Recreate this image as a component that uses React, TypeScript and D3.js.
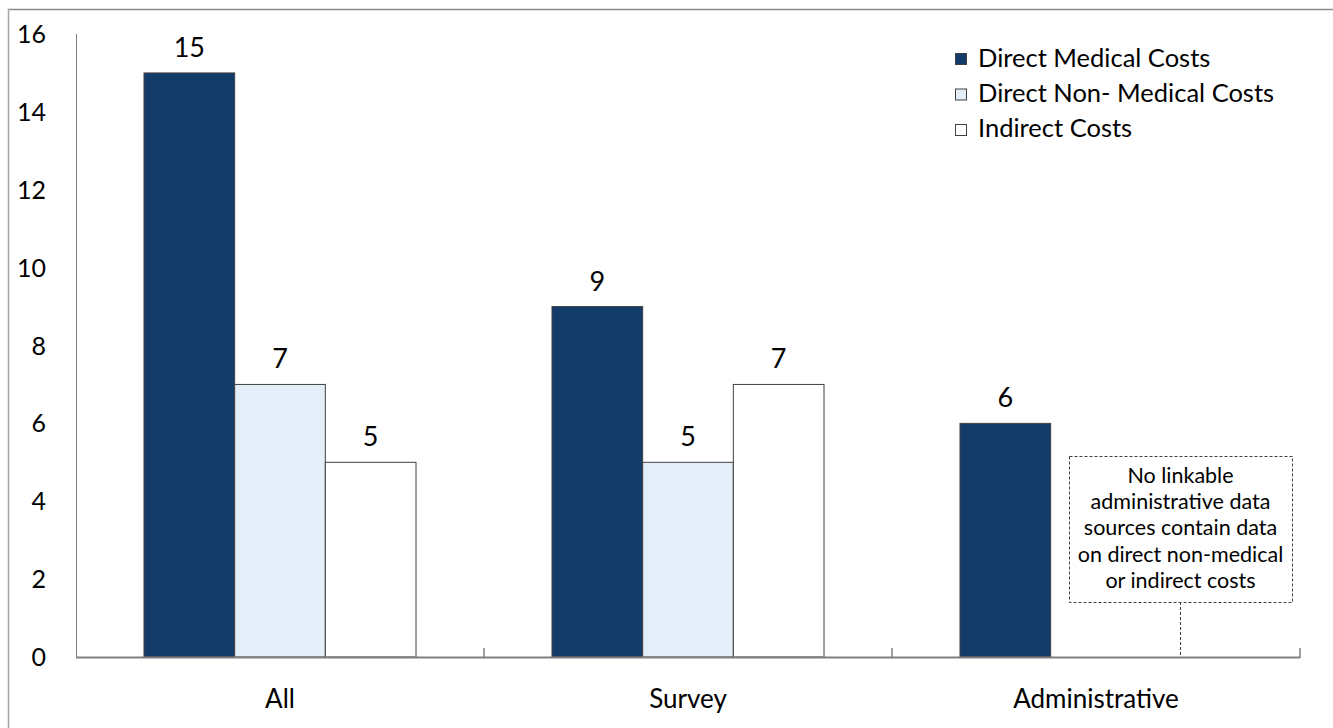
import React from "react";
import * as d3 from "d3";

const categories = ["All", "Survey", "Administrative"];
const seriesNames = ["Direct Medical Costs", "Direct Non- Medical Costs", "Indirect Costs"];
const directMedical = [15, 9, 6];
const directNonMedical: (number | null)[] = [7, 5, null];
const indirect: (number | null)[] = [5, 7, null];
const yTicks = [0, 2, 4, 6, 8, 10, 12, 14, 16];
const noteLines = [
  "No linkable",
  "administrative data",
  "sources contain data",
  "on direct non-medical",
  "or indirect costs",
];

const W = 1333;
const H = 728;
const FONT = "Lato, 'Open Sans', sans-serif";
const fills = ["#143c6b", "#e3eef8", "#ffffff"];

export default function App() {
  const x0 = d3.scaleBand<string>().domain(categories).range([76, 1300]).paddingInner(0).paddingOuter(0);
  const x1 = d3.scaleBand<string>().domain(seriesNames).range([0, x0.bandwidth()]).paddingInner(0).paddingOuter(0.75);
  const y = d3.scaleLinear().domain([0, 16]).range([657, 34]);

  const series = [directMedical, directNonMedical, indirect];
  const bars: { cat: string; s: string; v: number; i: number }[] = [];
  categories.forEach((c, ci) => {
    series.forEach((arr, si) => {
      const v = arr[ci];
      if (v != null) bars.push({ cat: c, s: seriesNames[si], v, i: si });
    });
  });

  const boundaries = categories.map((c) => (x0(c) as number) + x0.bandwidth());

  // annotation box for the Administrative group
  const noteX0 = 1069;
  const noteX1 = 1292;
  const noteY0 = 456;
  const noteY1 = 602;
  const noteCx = (noteX0 + noteX1) / 2;

  return (
    <svg width={W} height={H} style={{ position: "absolute", left: 0, top: 0, background: "#fff" }} fontFamily={FONT}>
      <rect x={0} y={0} width={W} height={H} fill="#fff" />
      {/* outer frame */}
      <line x1={8} x2={W} y1={9.5} y2={9.5} stroke="#8c8c8c" strokeWidth={1.5} />
      <line x1={8.5} x2={8.5} y1={9} y2={H} stroke="#a6a6a6" strokeWidth={1.5} />

      {/* y axis */}
      <line x1={76.5} x2={76.5} y1={y(16)} y2={y(0)} stroke="#7f7f7f" strokeWidth={1} />
      {yTicks.map((t) => (
        <text key={t} x={46} y={y(t) + 9} textAnchor="end" fontSize={25} fill="#000">
          {t}
        </text>
      ))}

      {/* bars */}
      {bars.map((b) => {
        const bx = (x0(b.cat) as number) + (x1(b.s) as number);
        return (
          <g key={b.cat + b.s}>
            <rect
              x={bx}
              y={y(b.v)}
              width={x1.bandwidth()}
              height={y(0) - y(b.v)}
              fill={fills[b.i]}
              stroke="#404040"
              strokeWidth={1}
            />
            <text x={bx + x1.bandwidth() / 2} y={y(b.v) - 16} textAnchor="middle" fontSize={27} fill="#000">
              {b.v}
            </text>
          </g>
        );
      })}

      {/* x axis */}
      <line x1={76} x2={1300} y1={657.5} y2={657.5} stroke="#7f7f7f" strokeWidth={2} />
      {boundaries.map((bx) => (
        <line key={bx} x1={bx} x2={bx} y1={648} y2={658} stroke="#7f7f7f" strokeWidth={1.5} />
      ))}
      {categories.map((c) => (
        <text key={c} x={(x0(c) as number) + x0.bandwidth() / 2} y={708} textAnchor="middle" fontSize={26} fill="#000">
          {c}
        </text>
      ))}

      {/* legend */}
      {seriesNames.map((s, i) => (
        <g key={s}>
          <rect x={955.5} y={53.5 + i * 35.5} width={11} height={11} fill={fills[i]} stroke="#404040" strokeWidth={1} />
          <text x={978} y={67 + i * 35} fontSize={25.5} fill="#000">
            {s}
          </text>
        </g>
      ))}

      {/* note */}
      <rect
        x={noteX0 + 0.5}
        y={noteY0 + 0.5}
        width={noteX1 - noteX0}
        height={noteY1 - noteY0}
        fill="#fff"
        stroke="#404040"
        strokeWidth={1}
        strokeDasharray="3,2"
      />
      <line x1={noteCx} x2={noteCx} y1={noteY1} y2={656} stroke="#404040" strokeWidth={1} strokeDasharray="3,2" />
      {noteLines.map((l, i) => (
        <text key={l} x={noteCx} y={483 + i * 26.2} textAnchor="middle" fontSize={21.5} fill="#000">
          {l}
        </text>
      ))}
    </svg>
  );
}
